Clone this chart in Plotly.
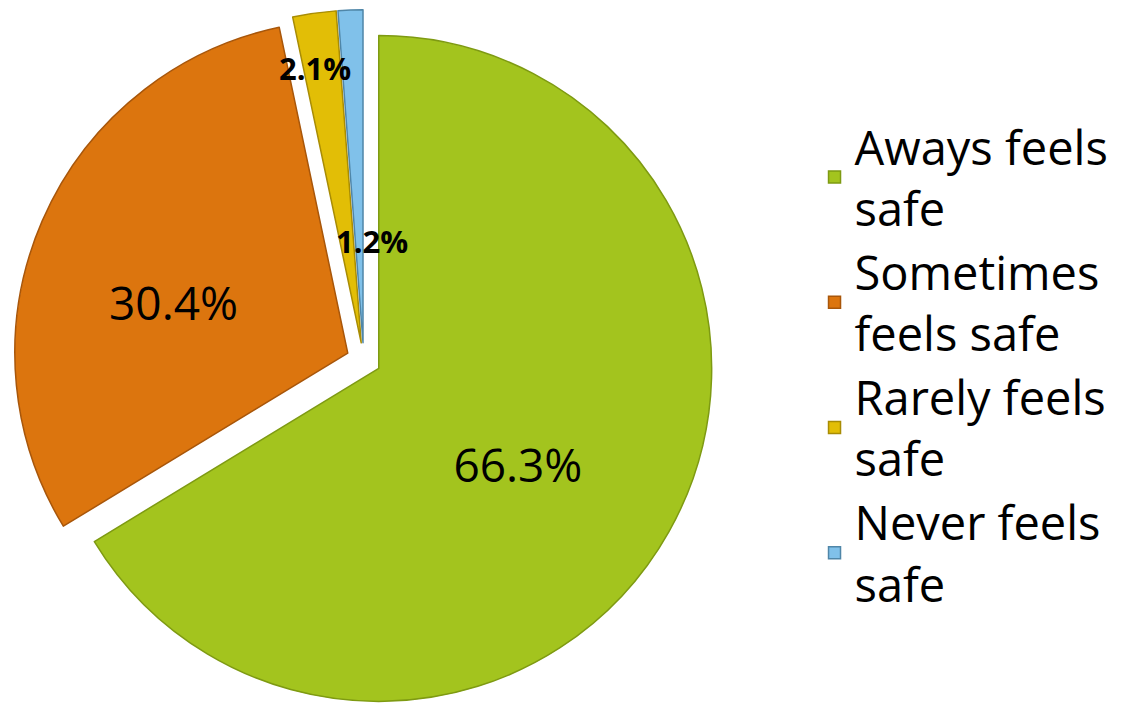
import plotly.graph_objects as go

categories = ["Aways feels<br>safe", "Sometimes<br>feels safe", "Rarely feels<br>safe", "Never feels<br>safe"]
values = [66.3, 30.4, 2.1, 1.2]
colors = ["#A3C41E", "#DC750E", "#E2BE06", "#80C1EA"]
edge_colors = ["#7E9A12", "#A8560A", "#A88C04", "#4F86A8"]

FONT = "Open Sans"
label_texts = [f"{v:.1f}%" for v in values]
NB = "\u00a0"
# big-slice labels, padded with invisible spaces to nudge them like the original placement
big_text = [f"<span style='font-size:16px'>{NB}</span><br>{label_texts[0]}{NB}",
            f"<span style='font-size:31px'>{NB}</span><br>{label_texts[1]}{NB}",
            "", ""]

fig = go.Figure()
fig.add_trace(go.Pie(
    labels=categories,
    values=values,
    sort=False,
    direction="clockwise",
    rotation=0,
    pull=[0.052] * len(values),
    marker=dict(colors=colors, line=dict(color=edge_colors, width=1.5)),
    text=big_text,
    textinfo="text",
    textposition="inside",
    insidetextorientation="horizontal",
    textfont=dict(family=FONT, size=46, color="#000000"),
    domain=dict(x=[0.0048, 0.6258], y=[0.0, 1.0]),
    hoverinfo="label+percent",
))

# small-slice labels (bold, placed near the slices as in the original)
fig.add_annotation(x=0.2722, y=0.9148, xref="paper", yref="paper", text=f"<b>{label_texts[2]}</b>",
                   xanchor="center", yanchor="middle", showarrow=False,
                   font=dict(family=FONT, size=31, color="#000000"))
fig.add_annotation(x=0.3227, y=0.669, xref="paper", yref="paper", text=f"<b>{label_texts[3]}</b>",
                   xanchor="center", yanchor="middle", showarrow=False,
                   font=dict(family=FONT, size=31, color="#000000"))

fig.update_layout(
    width=1128,
    height=704,
    margin=dict(l=0, r=0, t=0, b=0, autoexpand=False),
    paper_bgcolor="white",
    plot_bgcolor="white",
    showlegend=True,
    legend=dict(
        x=0.715, y=0.493, xanchor="left", yanchor="middle",
        font=dict(family=FONT, size=47, color="#000000"),
        bgcolor="rgba(0,0,0,0)",
    ),
)

fig.write_html("out.html")
